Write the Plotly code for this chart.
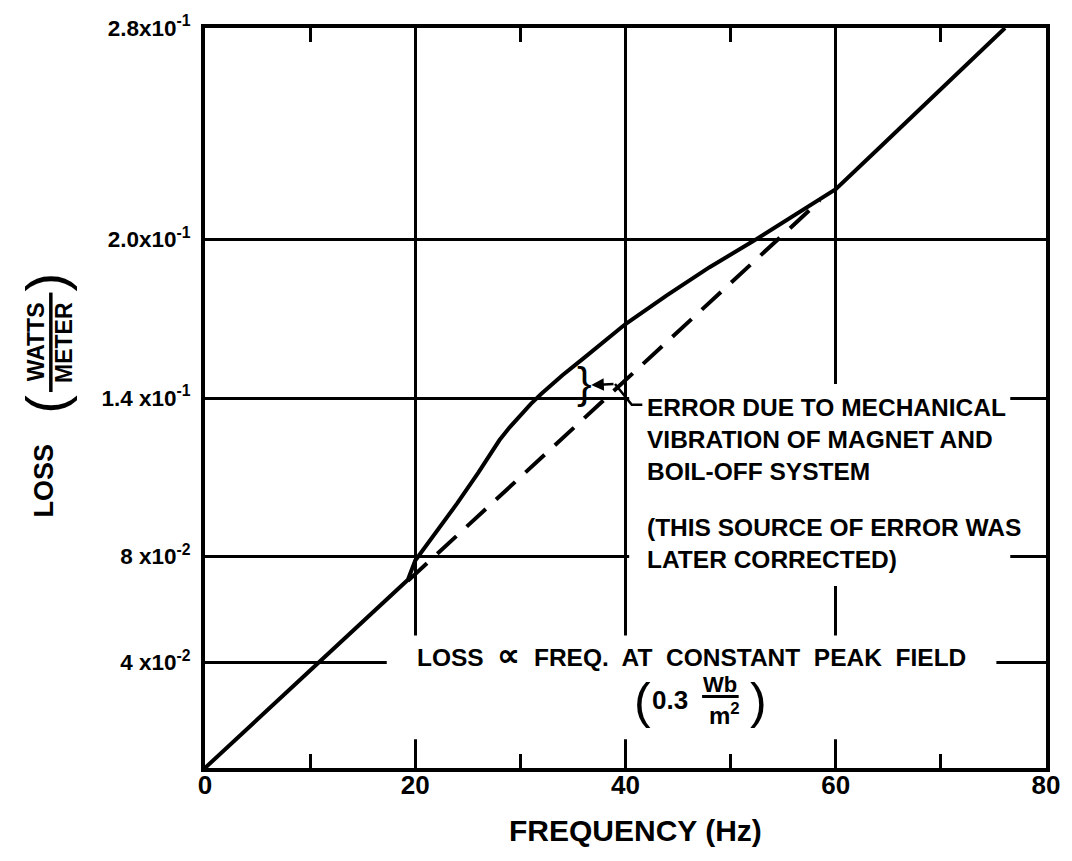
import plotly.graph_objects as go

# ---------------- data ----------------
freq_solid = [0, 18.5, 19.3, 20.0, 22, 24, 26, 28, 29, 30, 31, 32, 34, 36, 38, 40,
              44, 48, 52, 56, 60, 64, 68, 72, 76.1]
loss_solid = [0, 0.0679, 0.0712, 0.0785, 0.0894, 0.1002, 0.1118, 0.1240, 0.1290,
              0.1335, 0.1378, 0.1416, 0.1486, 0.1550, 0.1615, 0.1680, 0.1790,
              0.1895, 0.1990, 0.2090, 0.2190, 0.2341, 0.2492, 0.2643, 0.2800]

freq_dashed = [19.3, 58.5]
loss_dashed = [0.0708, 0.2147]

x_tickvals = [0, 20, 40, 60, 80]
x_ticktext = ["0", "20", "40", "60", "80"]
x_minor = [10, 30, 50, 70]
y_tickvals = [0.04, 0.08, 0.14, 0.20, 0.28]
y_ticktext = ["4 x10<sup>-2</sup>", "8 x10<sup>-2</sup>", "1.4 x10<sup>-1</sup>",
              "2.0x10<sup>-1</sup>", "2.8x10<sup>-1</sup>"]

# ---------------- layout geometry ----------------
W, H = 1072, 861
L, R, T, B = 205, 16, 24, 93
PW, PH = W - L - R, H - T - B
FONT = "Liberation Sans, Arial, sans-serif"


def px(xp, yp):
    """pixel -> paper coordinates (for decorative text only)"""
    return (xp - L) / PW, (H - B - yp) / PH


def fnt(size, bold=True):
    f = dict(size=size, color="black", family=FONT)
    if bold:
        f["weight"] = "bold"
    return f


fig = go.Figure()
fig.add_trace(go.Scatter(x=freq_solid, y=loss_solid, mode="lines",
                         line=dict(color="black", width=4),
                         showlegend=False, hoverinfo="skip"))
fig.add_trace(go.Scatter(x=freq_dashed, y=loss_dashed, mode="lines",
                         line=dict(color="black", width=4, dash="26px,14px"),
                         showlegend=False, hoverinfo="skip"))

ann = []


def text_px(xp, yp, text, size, angle=0, bold=True, **kw):
    xx, yy = px(xp, yp)
    d = dict(x=xx, y=yy, xref="paper", yref="paper", text=text, showarrow=False,
             textangle=angle, font=fnt(size, bold), xanchor="center", yanchor="middle")
    d.update(kw)
    ann.append(d)


# y-axis title (rotated, with fraction)
text_px(42, 479, "LOSS", 27, -90)
text_px(44, 402, "(", 56, -90, bold=False)
text_px(44, 279, ")", 56, -90, bold=False)
text_px(34, 340, "WATTS", 23, -90)
text_px(63, 340, "METER", 23, -90)

# x-axis title
text_px(641, 831, "FREQUENCY (Hz)", 30)

# error note
ann.append(dict(x=41.73, y=0.1426, xref="x", yref="y", xanchor="left", yanchor="top",
                align="left", valign="top", borderpad=2, showarrow=False,
                font=fnt(24.5),
                text="ERROR DUE TO MECHANICAL<br>VIBRATION OF MAGNET AND<br>BOIL-OFF SYSTEM"))
ann.append(dict(x=41.73, y=0.0971, xref="x", yref="y", xanchor="left", yanchor="top",
                align="left", valign="top", borderpad=2, showarrow=False,
                font=fnt(24.5),
                text="(THIS SOURCE OF ERROR WAS<br>LATER CORRECTED)"))

# bottom note
nb = "\u00a0"
text_px(697, 654,
        f"LOSS{nb} <span style='font-size:32px'>∝</span> {nb}FREQ.{nb} AT{nb} "
        f"CONSTANT{nb} PEAK{nb} FIELD", 24.5, borderpad=0)
text_px(648, 701, "(", 50, bold=False)
text_px(676, 700, "0.3", 26)
text_px(726, 684, "Wb", 22, borderpad=0)
text_px(731, 714, "m<sup>2</sup>", 24, borderpad=0)
text_px(765, 701, ")", 50, bold=False)

# brace and arrow
ann.append(dict(x=36.1, y=0.1458, xref="x", yref="y", text="}", showarrow=False,
                font=fnt(44, False), xanchor="center", yanchor="middle"))
ann.append(dict(x=36.75, y=0.1449, ax=39.0, ay=0.1453, xref="x", yref="y",
                axref="x", ayref="y", text="", showarrow=True, arrowhead=2,
                arrowsize=1, arrowwidth=2.5, arrowcolor="black"))

# white blocks that break the grid lines behind the notes
shapes = [
    dict(type="rect", xref="x", yref="y", x0=40.35, x1=76.6, y0=0.0689, y1=0.1453,
         fillcolor="white", line=dict(width=0), layer="above"),
    dict(type="rect", xref="x", yref="y", x0=17.29, x1=75.28, y0=0.0109, y1=0.0501,
         fillcolor="white", line=dict(width=0), layer="above"),
    # leader line to the note
    dict(type="path", xref="x", yref="y",
         path="M 39.0 0.1453 L 40.6 0.1374 L 41.6 0.1374",
         line=dict(color="black", width=2.5), layer="above"),
]
# fraction bars
x0, y0 = px(708, 696)
x1, _ = px(745, 696)
shapes.append(dict(type="line", xref="paper", yref="paper", x0=x0, x1=x1, y0=y0, y1=y0,
                   line=dict(color="black", width=3), layer="above"))
bx, by0 = px(49, 290)
_, by1 = px(49, 390)
shapes.append(dict(type="line", xref="paper", yref="paper", x0=bx, x1=bx, y0=by0, y1=by1,
                   line=dict(color="black", width=3.5)))

fig.update_layout(
    width=W, height=H,
    margin=dict(l=L, r=R, t=T, b=B, pad=0),
    paper_bgcolor="white", plot_bgcolor="white",
    font=dict(family=FONT, color="black"),
    annotations=ann, shapes=shapes,
    xaxis=dict(range=[0, 80], tickmode="array", tickvals=x_tickvals, ticktext=x_ticktext,
               showgrid=True, gridcolor="black", gridwidth=2.5, zeroline=False,
               showline=True, linecolor="black", linewidth=4, mirror="ticks",
               ticks="", tickfont=fnt(26), ticklabelstandoff=-9,
               minor=dict(tickmode="array", tickvals=x_minor, ticks="inside", ticklen=14,
                          tickwidth=2.5, tickcolor="black", showgrid=False)),
    yaxis=dict(range=[0, 0.28], tickmode="array", tickvals=y_tickvals, ticktext=y_ticktext,
               showgrid=True, gridcolor="black", gridwidth=2.5, zeroline=False,
               showline=True, linecolor="black", linewidth=4, mirror=True,
               ticks="", tickfont=fnt(22.5), ticklabelstandoff=6),
)

fig.write_html("out.html")
